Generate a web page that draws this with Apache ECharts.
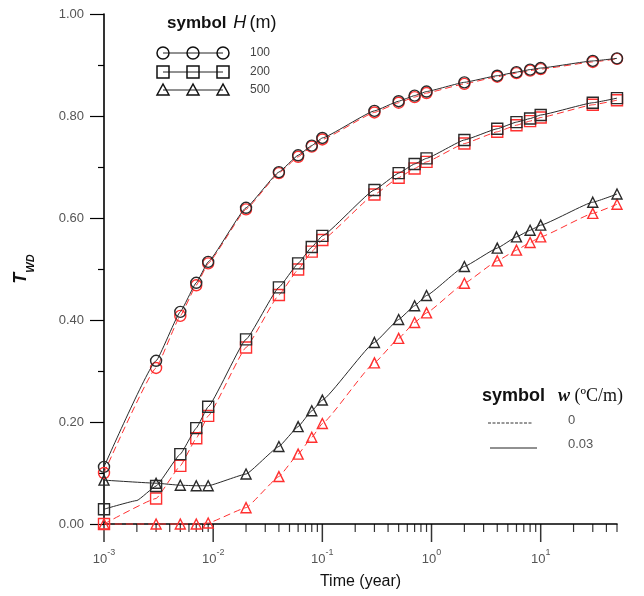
<!DOCTYPE html>
<html>
<head>
<meta charset="utf-8">
<script src="https://cdn.jsdelivr.net/npm/echarts@6/dist/echarts.min.js"></script>
<style>html,body{margin:0;padding:0;background:#fff;}#c{width:644px;height:596px;}</style>
</head>
<body>
<div id="c"></div>
<script>
// ---- data ----
const times = [0.001, 0.003, 0.005, 0.007, 0.009, 0.02, 0.04, 0.06, 0.08, 0.1, 0.3, 0.5, 0.7, 0.9, 2, 4, 6, 8, 10, 30, 50];
// H = 100 m
const h100_w003 = [0.112, 0.320, 0.416, 0.473, 0.514, 0.620, 0.690, 0.723, 0.742, 0.757, 0.810, 0.829, 0.840, 0.848, 0.866, 0.879, 0.886, 0.891, 0.894, 0.908, 0.913];
const h100_w0   = [0.100, 0.306, 0.408, 0.468, 0.511, 0.617, 0.688, 0.720, 0.740, 0.754, 0.807, 0.826, 0.837, 0.845, 0.863, 0.877, 0.884, 0.889, 0.892, 0.906, 0.912];
// H = 200 m
const h200_w003 = [0.029, 0.0745, 0.137, 0.188, 0.230, 0.362, 0.464, 0.511, 0.543, 0.565, 0.655, 0.688, 0.706, 0.717, 0.753, 0.775, 0.788, 0.795, 0.802, 0.826, 0.835];
const h200_w0   = [0.000, 0.050, 0.114, 0.168, 0.212, 0.346, 0.449, 0.499, 0.534, 0.557, 0.646, 0.679, 0.697, 0.710, 0.746, 0.769, 0.782, 0.790, 0.797, 0.822, 0.831];
// line-only vertex (no symbol) on the H=200, w=0.03 curve
const h200_w003_extraT = [0.002];
const h200_w003_extraV = [0.046];
// H = 500 m
const h500_w003 = [0.086, 0.080, 0.076, 0.075, 0.075, 0.098, 0.152, 0.191, 0.222, 0.243, 0.356, 0.401, 0.428, 0.448, 0.505, 0.541, 0.563, 0.576, 0.586, 0.631, 0.647];
const h500_w0   = [0.000, 0.000, 0.000, 0.000, 0.002, 0.032, 0.093, 0.137, 0.170, 0.197, 0.316, 0.364, 0.395, 0.414, 0.472, 0.516, 0.537, 0.552, 0.563, 0.609, 0.627];

const xMin = 0.001, xMax = 50;
const majorX = [0.001, 0.01, 0.1, 1, 10];
const minorX = [];
for (let e = -3; e <= 1; e++) for (let m = 2; m <= 9; m++) { const v = m * Math.pow(10, e); if (v <= xMax + 1e-9) minorX.push(+v.toPrecision(3)); }

// ---- chart ----
const chart = echarts.init(document.getElementById('c'));
const BLACK = '#2a2a2a', RED = '#ff3030';

function pts(vals, extraT, extraV) {
  const d = times.map((t, i) => [t, vals[i]]);
  if (extraT) extraT.forEach((t, i) => d.push({ value: [t, extraV[i]], symbol: 'none' }));
  d.sort((a, b) => (a.value || a)[0] - (b.value || b)[0]);
  return d;
}
function mk(name, data, color, dashed, symbol, size) {
  return {
    name, type: 'line', data, symbol, symbolSize: size, smooth: 0.1, smoothMonotone: 'x',
    lineStyle: { color, width: 1, type: dashed ? [7, 4] : 'solid' },
    itemStyle: { color: 'rgba(0,0,0,0)', borderColor: color, borderWidth: dashed ? 1.4 : 1.4 },
    emphasis: { disabled: true }, animation: false, clip: false, z: dashed ? 2 : 3
  };
}

const series = [
  mk('100 w0', pts(h100_w0), RED, true, 'circle', 11),
  mk('200 w0', pts(h200_w0), RED, true, 'rect', 11),
  mk('500 w0', pts(h500_w0), RED, true, 'triangle', 10),
  mk('100 w003', pts(h100_w003), BLACK, false, 'circle', 11),
  mk('200 w003', pts(h200_w003, h200_w003_extraT, h200_w003_extraV), BLACK, false, 'rect', 11),
  mk('500 w003', pts(h500_w003), BLACK, false, 'triangle', 10),
  { type: 'scatter', data: majorX.map(v => [v, 0]), symbol: 'rect', symbolSize: [1.5, 18], symbolOffset: [0, 9],
    itemStyle: { color: '#000' }, silent: true, clip: false, animation: false, z: 1 },
  { type: 'scatter', data: minorX.map(v => [v, 0]), symbol: 'rect', symbolSize: [1.2, 8], symbolOffset: [0, 4],
    itemStyle: { color: '#000' }, silent: true, clip: false, animation: false, z: 1 }
];

const lgFont = 'Arial, "Liberation Sans", sans-serif';
const serif = '"Liberation Serif", "DejaVu Serif", serif';
const graphic = [];
// top-left legend
graphic.push({ type: 'text', x: 167, y: 23, style: { text: '{b|symbol}  {i|H} {n|(m)}', verticalAlign: 'middle', rich: {
  b: { fontSize: 17, fontWeight: 'bold', fontFamily: lgFont, fill: '#111' },
  i: { fontSize: 18, fontStyle: 'italic', fontFamily: lgFont, fill: '#111' },
  n: { fontSize: 18, fontFamily: lgFont, fill: '#111' } } } });
const rowsY = [53, 72, 90], rowLab = ['100', '200', '500'], xs = [163, 193, 223];
rowsY.forEach((y, r) => {
  graphic.push({ type: 'line', shape: { x1: 163, y1: y, x2: 223, y2: y }, style: { stroke: '#222', lineWidth: 1 } });
  xs.forEach(x => {
    if (r === 0) graphic.push({ type: 'circle', shape: { cx: x, cy: y, r: 6 }, style: { fill: 'rgba(0,0,0,0)', stroke: '#111', lineWidth: 1.5 } });
    if (r === 1) graphic.push({ type: 'rect', shape: { x: x - 6, y: y - 6, width: 12, height: 12 }, style: { fill: 'rgba(0,0,0,0)', stroke: '#111', lineWidth: 1.5 } });
    if (r === 2) graphic.push({ type: 'polygon', shape: { points: [[x, y - 6], [x - 6, y + 5], [x + 6, y + 5]] }, style: { fill: 'rgba(0,0,0,0)', stroke: '#111', lineWidth: 1.5 } });
  });
  graphic.push({ type: 'text', x: 250, y: y, style: { text: rowLab[r], fontSize: 12, fontFamily: lgFont, fill: '#444', verticalAlign: 'middle' } });
});
// bottom-right legend
graphic.push({ type: 'text', x: 482, y: 396, style: { text: 'symbol', fontSize: 18, fontWeight: 'bold', fontFamily: lgFont, fill: '#111', verticalAlign: 'middle' } });
graphic.push({ type: 'text', x: 558, y: 396, style: { text: '{w|w}{n| (ºC/m)}', verticalAlign: 'middle', rich: {
  w: { fontSize: 18, fontStyle: 'italic', fontWeight: 'bold', fontFamily: serif, fill: '#111' },
  n: { fontSize: 18, fontFamily: serif, fill: '#111' } } } });
graphic.push({ type: 'line', shape: { x1: 488, y1: 423, x2: 533, y2: 423 }, style: { stroke: '#333', lineWidth: 1, lineDash: [3, 1.5] } });
graphic.push({ type: 'line', shape: { x1: 490, y1: 448, x2: 537, y2: 448 }, style: { stroke: '#222', lineWidth: 1 } });
graphic.push({ type: 'text', x: 568, y: 420, style: { text: '0', fontSize: 13, fontFamily: lgFont, fill: '#555', verticalAlign: 'middle' } });
graphic.push({ type: 'text', x: 568, y: 444, style: { text: '0.03', fontSize: 13, fontFamily: lgFont, fill: '#555', verticalAlign: 'middle' } });

chart.setOption({
  animation: false,
  backgroundColor: '#fff',
  grid: { left: 104, right: 27, top: 14, bottom: 72, containLabel: false },
  xAxis: {
    type: 'log', logBase: 10, min: xMin, max: xMax,
    name: 'Time (year)', nameLocation: 'middle', nameGap: 50,
    nameTextStyle: { fontSize: 16, fontFamily: lgFont, color: '#111' },
    axisLine: { lineStyle: { color: '#000', width: 1.6 } },
    axisTick: { show: false }, splitLine: { show: false }, minorTick: { show: false },
    axisLabel: {
      margin: 24, color: '#555', fontFamily: lgFont,
      formatter: v => { const e = Math.log10(v); const r = Math.round(e); if (Math.abs(e - r) > 1e-6) return ''; return '{b|10}{e|' + r + '}'; },
      rich: { b: { fontSize: 13, fontFamily: lgFont, color: '#555', verticalAlign: 'bottom', lineHeight: 18 },
              e: { fontSize: 9, fontFamily: lgFont, color: '#555', verticalAlign: 'top', lineHeight: 18 } }
    }
  },
  yAxis: {
    type: 'value', min: 0, max: 1, interval: 0.2,
    name: '{t|T}{s|WD}', nameLocation: 'middle', nameGap: 68, nameRotate: 90,
    nameTextStyle: { rich: {
      t: { fontSize: 18, fontWeight: 'bold', fontStyle: 'italic', fontFamily: lgFont, color: '#111', verticalAlign: 'top', lineHeight: 24 },
      s: { fontSize: 11, fontWeight: 'bold', fontStyle: 'italic', fontFamily: lgFont, color: '#111', verticalAlign: 'bottom', lineHeight: 24 } } },
    axisLine: { show: true, lineStyle: { color: '#000', width: 1.6 } },
    axisTick: { show: true, inside: false, length: 14, lineStyle: { color: '#000', width: 1.2 } },
    minorTick: { show: true, splitNumber: 2, length: 6, lineStyle: { color: '#000', width: 1.2 } },
    splitLine: { show: false }, minorSplitLine: { show: false },
    axisLabel: { margin: 20, fontSize: 13, color: '#555', fontFamily: lgFont, formatter: v => v.toFixed(2) }
  },
  graphic,
  series
});
</script>
</body>
</html>
